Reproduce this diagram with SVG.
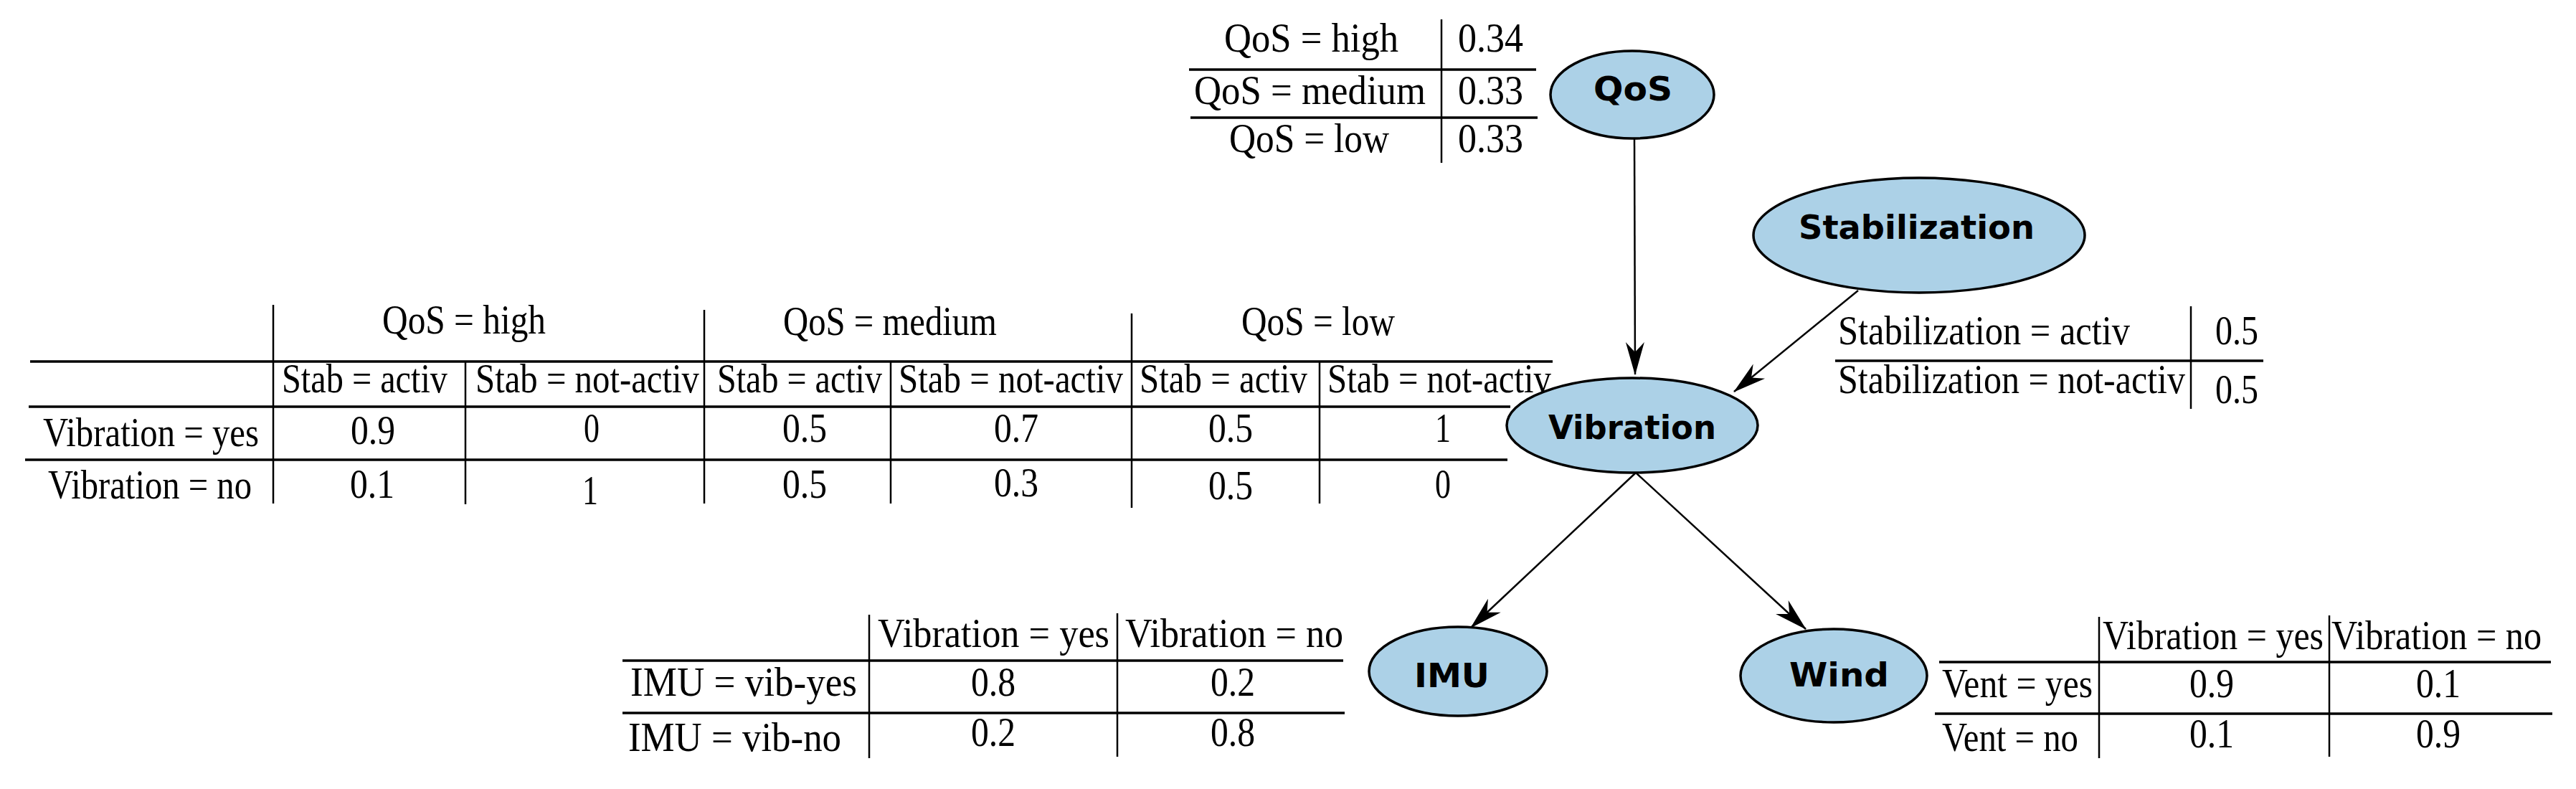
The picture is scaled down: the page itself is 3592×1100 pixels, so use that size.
<svg xmlns="http://www.w3.org/2000/svg" width="3592" height="1100" viewBox="0 0 3592 1100">
<style>
.t{font-family:"Liberation Serif","Times New Roman",serif;font-size:57px;fill:#000}
.hl{stroke:#000;stroke-width:3.5;fill:none}
.vl{stroke:#000;stroke-width:2.5;fill:none}
.node ellipse{fill:#acd1e7;stroke:#000;stroke-width:3.5}
.nl{font-family:"DejaVu Sans",Verdana,sans-serif;font-weight:bold;font-size:46px;fill:#000}
.edge{stroke:#000;stroke-width:2.5;fill:none}
</style>
<defs>
<marker id="arr" markerUnits="userSpaceOnUse" markerWidth="46" markerHeight="28" viewBox="0 -14 46 28" refX="45" refY="0" orient="auto">
<path d="M46,0 L0,-13 L14,0 L0,13 Z" fill="#000"/>
</marker>
</defs>

<g id="table-qos">
<line class="vl" x1="2010" y1="27" x2="2010" y2="227"/>
<line class="hl" x1="1658" y1="97" x2="2142" y2="97"/>
<line class="hl" x1="1660" y1="164" x2="2144" y2="164"/>
<text class="t" x="1707" y="72" textLength="243" lengthAdjust="spacingAndGlyphs">QoS = high</text>
<text class="t" x="2033" y="72" textLength="91" lengthAdjust="spacingAndGlyphs">0.34</text>
<text class="t" x="1665" y="145" textLength="323" lengthAdjust="spacingAndGlyphs">QoS = medium</text>
<text class="t" x="2033" y="145" textLength="91" lengthAdjust="spacingAndGlyphs">0.33</text>
<text class="t" x="1714" y="212" textLength="223" lengthAdjust="spacingAndGlyphs">QoS = low</text>
<text class="t" x="2033" y="212" textLength="91" lengthAdjust="spacingAndGlyphs">0.33</text>
</g>

<g id="table-stabilization">
<line class="vl" x1="3055" y1="427" x2="3055" y2="570"/>
<line class="hl" x1="2559" y1="503" x2="3156" y2="503"/>
<text class="t" x="2563" y="480" textLength="407" lengthAdjust="spacingAndGlyphs">Stabilization = activ</text>
<text class="t" x="3089" y="480" textLength="60" lengthAdjust="spacingAndGlyphs">0.5</text>
<text class="t" x="2563" y="548" textLength="484" lengthAdjust="spacingAndGlyphs">Stabilization = not-activ</text>
<text class="t" x="3089" y="562" textLength="60" lengthAdjust="spacingAndGlyphs">0.5</text>
</g>

<g id="table-vibration">
<line class="hl" x1="42" y1="504" x2="2165" y2="504"/>
<line class="hl" x1="40" y1="567" x2="2106" y2="567"/>
<line class="hl" x1="35" y1="641" x2="2102" y2="641"/>
<line class="vl" x1="381" y1="425" x2="381" y2="702"/>
<line class="vl" x1="649" y1="504" x2="649" y2="703"/>
<line class="vl" x1="982" y1="432" x2="982" y2="702"/>
<line class="vl" x1="1242" y1="504" x2="1242" y2="702"/>
<line class="vl" x1="1578" y1="437" x2="1578" y2="708"/>
<line class="vl" x1="1840" y1="504" x2="1840" y2="702"/>
<text class="t" x="533" y="465" textLength="228" lengthAdjust="spacingAndGlyphs">QoS = high</text>
<text class="t" x="1092" y="467" textLength="298" lengthAdjust="spacingAndGlyphs">QoS = medium</text>
<text class="t" x="1731" y="467" textLength="214" lengthAdjust="spacingAndGlyphs">QoS = low</text>
<text class="t" x="393" y="547" textLength="231" lengthAdjust="spacingAndGlyphs">Stab = activ</text>
<text class="t" x="663" y="547" textLength="312" lengthAdjust="spacingAndGlyphs">Stab = not-activ</text>
<text class="t" x="1000" y="547" textLength="230" lengthAdjust="spacingAndGlyphs">Stab = activ</text>
<text class="t" x="1253" y="547" textLength="313" lengthAdjust="spacingAndGlyphs">Stab = not-activ</text>
<text class="t" x="1589" y="547" textLength="234" lengthAdjust="spacingAndGlyphs">Stab = activ</text>
<text class="t" x="1851" y="547" textLength="312" lengthAdjust="spacingAndGlyphs">Stab = not-activ</text>
<text class="t" x="60" y="622" textLength="301" lengthAdjust="spacingAndGlyphs">Vibration = yes</text>
<text class="t" x="67" y="695" textLength="284" lengthAdjust="spacingAndGlyphs">Vibration = no</text>
<text class="t" x="489" y="619" textLength="62" lengthAdjust="spacingAndGlyphs">0.9</text>
<text class="t" x="814" y="616" textLength="22" lengthAdjust="spacingAndGlyphs">0</text>
<text class="t" x="1091" y="616" textLength="62" lengthAdjust="spacingAndGlyphs">0.5</text>
<text class="t" x="1386" y="616" textLength="62" lengthAdjust="spacingAndGlyphs">0.7</text>
<text class="t" x="1685" y="616" textLength="62" lengthAdjust="spacingAndGlyphs">0.5</text>
<text class="t" x="2001" y="616" textLength="22" lengthAdjust="spacingAndGlyphs">1</text>
<text class="t" x="488" y="694" textLength="62" lengthAdjust="spacingAndGlyphs">0.1</text>
<text class="t" x="812" y="703" textLength="22" lengthAdjust="spacingAndGlyphs">1</text>
<text class="t" x="1091" y="694" textLength="62" lengthAdjust="spacingAndGlyphs">0.5</text>
<text class="t" x="1386" y="692" textLength="62" lengthAdjust="spacingAndGlyphs">0.3</text>
<text class="t" x="1685" y="696" textLength="62" lengthAdjust="spacingAndGlyphs">0.5</text>
<text class="t" x="2001" y="694" textLength="22" lengthAdjust="spacingAndGlyphs">0</text>
</g>

<g id="table-imu">
<line class="vl" x1="1212" y1="857" x2="1212" y2="1057"/>
<line class="vl" x1="1558" y1="855" x2="1558" y2="1055"/>
<line class="hl" x1="868" y1="921" x2="1873" y2="921"/>
<line class="hl" x1="868" y1="994" x2="1875" y2="994"/>
<text class="t" x="1224" y="902" textLength="323" lengthAdjust="spacingAndGlyphs">Vibration = yes</text>
<text class="t" x="1569" y="902" textLength="304" lengthAdjust="spacingAndGlyphs">Vibration = no</text>
<text class="t" x="879" y="970" textLength="316" lengthAdjust="spacingAndGlyphs">IMU = vib-yes</text>
<text class="t" x="876" y="1047" textLength="297" lengthAdjust="spacingAndGlyphs">IMU = vib-no</text>
<text class="t" x="1354" y="970" textLength="62" lengthAdjust="spacingAndGlyphs">0.8</text>
<text class="t" x="1688" y="970" textLength="62" lengthAdjust="spacingAndGlyphs">0.2</text>
<text class="t" x="1354" y="1040" textLength="62" lengthAdjust="spacingAndGlyphs">0.2</text>
<text class="t" x="1688" y="1040" textLength="62" lengthAdjust="spacingAndGlyphs">0.8</text>
</g>

<g id="table-wind">
<line class="vl" x1="2927" y1="860" x2="2927" y2="1057"/>
<line class="vl" x1="3248" y1="858" x2="3248" y2="1055"/>
<line class="hl" x1="2704" y1="923" x2="3557" y2="923"/>
<line class="hl" x1="2698" y1="995" x2="3559" y2="995"/>
<text class="t" x="2932" y="905" textLength="308" lengthAdjust="spacingAndGlyphs">Vibration = yes</text>
<text class="t" x="3251" y="905" textLength="293" lengthAdjust="spacingAndGlyphs">Vibration = no</text>
<text class="t" x="2708" y="972" textLength="210" lengthAdjust="spacingAndGlyphs">Vent = yes</text>
<text class="t" x="2708" y="1047" textLength="190" lengthAdjust="spacingAndGlyphs">Vent = no</text>
<text class="t" x="3053" y="972" textLength="62" lengthAdjust="spacingAndGlyphs">0.9</text>
<text class="t" x="3369" y="972" textLength="62" lengthAdjust="spacingAndGlyphs">0.1</text>
<text class="t" x="3053" y="1042" textLength="62" lengthAdjust="spacingAndGlyphs">0.1</text>
<text class="t" x="3369" y="1042" textLength="62" lengthAdjust="spacingAndGlyphs">0.9</text>
</g>

<g id="connectors">
<path class="edge" d="M2279,193 L2280,522" marker-end="url(#arr)"/>
<path class="edge" d="M2591,405 L2418,546" marker-end="url(#arr)"/>
<path class="edge" d="M2281,659 L2051,875" marker-end="url(#arr)"/>
<path class="edge" d="M2281,659 L2518,877" marker-end="url(#arr)"/>
</g>

<g id="node-qos" class="node">
<ellipse cx="2276" cy="132" rx="114" ry="61"/>
<text class="nl" x="2222" y="140" textLength="110" lengthAdjust="spacingAndGlyphs">QoS</text>
</g>
<g id="node-stabilization" class="node">
<ellipse cx="2676" cy="328" rx="231" ry="80"/>
<text class="nl" x="2508" y="333" textLength="329" lengthAdjust="spacingAndGlyphs">Stabilization</text>
</g>
<g id="node-vibration" class="node">
<ellipse cx="2276" cy="593" rx="175" ry="66"/>
<text class="nl" x="2159" y="612" textLength="234" lengthAdjust="spacingAndGlyphs">Vibration</text>
</g>
<g id="node-imu" class="node">
<ellipse cx="2033" cy="936" rx="124" ry="62"/>
<text class="nl" x="1972" y="958" textLength="105" lengthAdjust="spacingAndGlyphs">IMU</text>
</g>
<g id="node-wind" class="node">
<ellipse cx="2557" cy="942" rx="130" ry="65"/>
<text class="nl" x="2495" y="957" textLength="139" lengthAdjust="spacingAndGlyphs">Wind</text>
</g>
</svg>
